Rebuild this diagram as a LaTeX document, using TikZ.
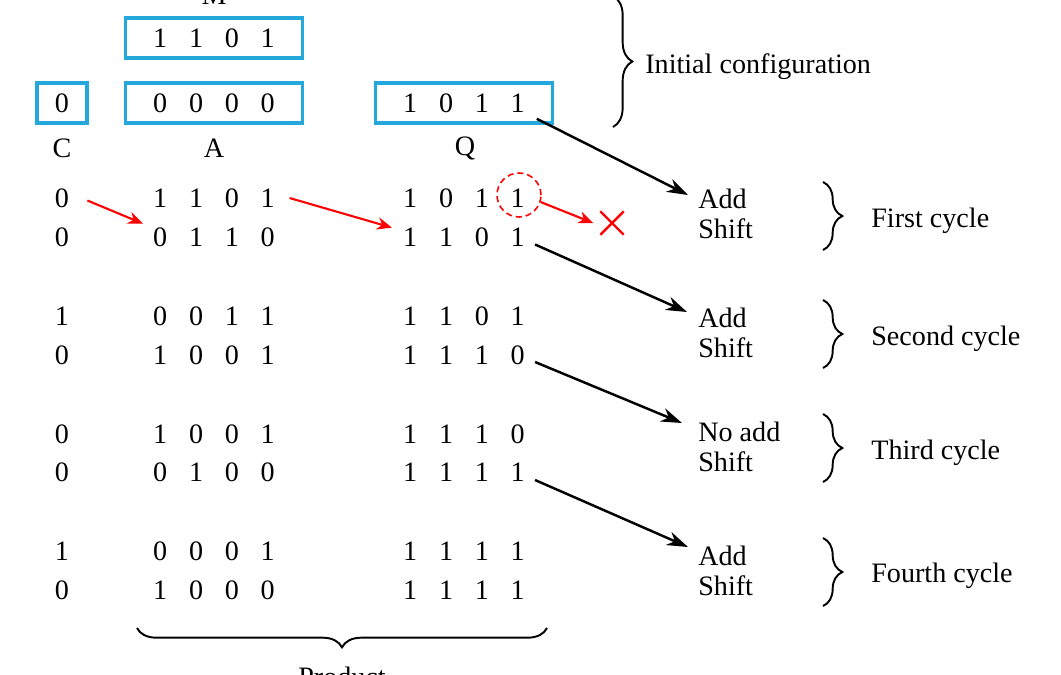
\documentclass[tikz,border=0pt]{standalone}
\usepackage{fontspec}
\setmainfont{Liberation Serif}
\usetikzlibrary{positioning,shapes,arrows.meta,decorations.pathreplacing}
\definecolor{regblue}{RGB}{36,168,220}
\tikzstyle{reg} = [rectangle, minimum width=3.54cm, minimum height=0.8cm, text centered, draw=regblue, line width=2pt, inner sep=0pt]
\tikzstyle{bits} = [inner sep=2pt]
\tikzstyle{op} = [align=left, anchor=west, inner sep=0pt]
\tikzstyle{note} = [anchor=base west, inner sep=0pt]
\tikzstyle{arrow} = [line width=1.4pt,-{Stealth[length=12pt,width=8pt]}]
\tikzstyle{redarrow} = [red, line width=1.2pt,-{Stealth[length=8.5pt,width=7pt]}]
\tikzstyle{cyclebrace} = [decorate, decoration={brace,amplitude=11pt}, line width=1.1pt]
\newcommand{\word}[4]{\makebox[20.4pt]{#1}\makebox[20.4pt]{#2}\makebox[20.4pt]{#3}\makebox[20.4pt]{#4}}

\begin{document}
\begin{tikzpicture}[x=0.02cm, y=-0.02cm, font=\fontsize{16}{17}\selectfont]
\useasboundingbox (0,0) rectangle (1061,674);
% registers
\node[anchor=base] (mlabel) at (214,4) {M};
\node[reg] (mreg) at (214,38) {\word1101};
\node[reg, minimum width=1cm] (creg) at (62,103) {0};
\node[reg] (areg) at (214,103) {\word0000};
\node[reg] (qreg) at (464,103) {\word1011};
\node (clabel) at (62,148) {C};
\node (alabel) at (214,148) {A};
\node (qlabel) at (465,148) {Q};
\draw[cyclebrace] (613,-4) -- (613,127);
\node[note] (init) at (645,73) {Initial configuration};
% steps
\node[bits] (c1) at (62,198) {0};
\node[bits] (a1) at (214,198) {\word1101};
\node[bits] (q1) at (464,198) {\word1011};
\node[bits] (c2) at (62,237) {0};
\node[bits] (a2) at (214,237) {\word0110};
\node[bits] (q2) at (464,237) {\word1101};
\node[bits] (c3) at (62,316) {1};
\node[bits] (a3) at (214,316) {\word0011};
\node[bits] (q3) at (464,316) {\word1101};
\node[bits] (c4) at (62,355) {0};
\node[bits] (a4) at (214,355) {\word1001};
\node[bits] (q4) at (464,355) {\word1110};
\node[bits] (c5) at (62,434) {0};
\node[bits] (a5) at (214,434) {\word1001};
\node[bits] (q5) at (464,434) {\word1110};
\node[bits] (c6) at (62,472) {0};
\node[bits] (a6) at (214,472) {\word0100};
\node[bits] (q6) at (464,472) {\word1111};
\node[bits] (c7) at (62,551) {1};
\node[bits] (a7) at (214,551) {\word0001};
\node[bits] (q7) at (464,551) {\word1111};
\node[bits] (c8) at (62,590) {0};
\node[bits] (a8) at (214,590) {\word1000};
\node[bits] (q8) at (464,590) {\word1111};
\node[circle, draw=red, dash pattern=on 3.5pt off 2.2pt, minimum size=0.88cm, line width=0.9pt, inner sep=0pt] (drop) at (519,195) {};
\node[cross out, draw=red, line width=1.4pt, minimum size=0.42cm, inner sep=0pt] (lost) at (612,223) {};
\node[op] (op1) at (698,213.5) {Add\\Shift};
\node[op] (op2) at (698,332.5) {Add\\Shift};
\node[op] (op3) at (698,446.5) {No add\\Shift};
\node[op] (op4) at (698,570.5) {Add\\Shift};
\node[note] (cyc1) at (871,227) {First cycle};
\node[note] (cyc2) at (871,345) {Second cycle};
\node[note] (cyc3) at (871,459) {Third cycle};
\node[note] (cyc4) at (871,582) {Fourth cycle};
\draw[cyclebrace] (823,182) -- (823,250);
\draw[cyclebrace] (823,300) -- (823,368);
\draw[cyclebrace] (823,414) -- (823,482);
\draw[cyclebrace] (823,538) -- (823,606);
\draw[cyclebrace] (547,628) -- (137,628);
\node[anchor=base] (product) at (342,686) {Product};
\draw[redarrow] ([xshift=0.29cm,yshift=-0.05cm]c1.east) 
                        -- ([xshift=0.09cm]a2.north west);
\draw[redarrow] (a1.east) 
                        -- ([xshift=0.07cm,yshift=-0.08cm]q2.north west);
\draw[redarrow] (drop.-18) -- ([xshift=-0.14cm]lost.west);
\draw[arrow] ([xshift=-0.35cm,yshift=0.12cm]qreg.south east) 
                        -- ([xshift=-0.2cm,yshift=0.37cm]op1.west);
\draw[arrow] ([xshift=-0.09cm,yshift=-0.15cm]q2.east) 
                        -- ([xshift=-0.22cm,yshift=0.41cm]op2.west);
\draw[arrow] ([xshift=-0.09cm,yshift=-0.14cm]q4.east) 
                        -- ([xshift=-0.32cm,yshift=0.47cm]op3.west);
\draw[arrow] ([xshift=-0.09cm,yshift=-0.16cm]q6.east) 
                        -- ([xshift=-0.2cm,yshift=0.47cm]op4.west);
\end{tikzpicture}
\end{document}
